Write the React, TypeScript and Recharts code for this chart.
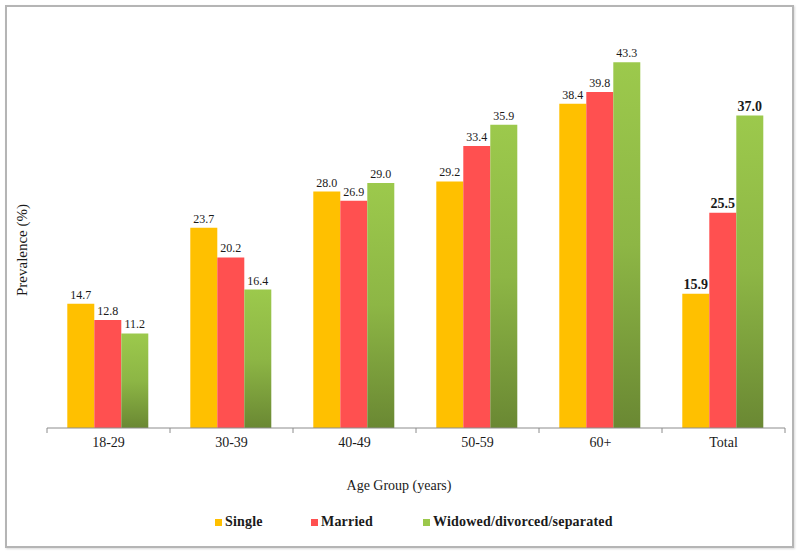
import { BarChart, Bar, XAxis, YAxis, LabelList } from 'recharts';

const ageGroups = ['18-29', '30-39', '40-49', '50-59', '60+', 'Total'];
const single = [14.7, 23.7, 28.0, 29.2, 38.4, 15.9];
const married = [12.8, 20.2, 26.9, 33.4, 39.8, 25.5];
const widowed = [11.2, 16.4, 29.0, 35.9, 43.3, 37.0];

const seriesNames = ['Single', 'Married', 'Widowed/divorced/separated'];
const seriesColors = ['#FFC000', '#FF5050', '#9BC84B'];

const data = ageGroups.map((g, i) => ({
    group: g,
    single: single[i],
    married: married[i],
    widowed: widowed[i],
}));

const serif = '"Liberation Serif", "Times New Roman", serif';

// value labels, bold for the Total group
const ValueLabel = (props: any) => {
    const { x, y, width, value, index } = props;
    const isTotal = ageGroups[index] === 'Total';
    return (
        <text
            x={x + width / 2}
            y={y - 5}
            textAnchor="middle"
            fontFamily={serif}
            fontSize={isTotal ? 14 : 12}
            fontWeight={isTotal ? 700 : 400}
            fill="#1a1a1a"
        >
            {Number(value).toFixed(1)}
        </text>
    );
};

// category tick: label at centre, tick marks at band edges
const GroupTick = (props: any) => {
    const { x, y, payload, index } = props;
    const half = payload && payload.offset ? payload.offset : 61.5;
    const last = index === ageGroups.length - 1;
    return (
        <g>
            <line x1={x - half} y1={y - 8} x2={x - half} y2={y - 3} stroke="#8c8c8c" />
            {last && <line x1={x + half} y1={y - 8} x2={x + half} y2={y - 3} stroke="#8c8c8c" />}
            <text x={x} y={y + 11} textAnchor="middle" fontFamily={serif} fontSize={14} fill="#1a1a1a">
                {payload.value}
            </text>
        </g>
    );
};

export default function App() {
    return (
        <div style={{ position: 'absolute', left: 0, top: 0, width: 800, height: 552, background: '#fff', fontFamily: serif }}>
            {/* frame */}
            <div style={{ position: 'absolute', left: 5, top: 5, width: 785, height: 539, border: '2px solid #b5b5b5', boxShadow: '1px 1px 2px rgba(0,0,0,0.15)' }} />

            <div style={{ position: 'absolute', left: 0, top: 0 }}>
                <BarChart
                    width={800}
                    height={552}
                    data={data}
                    margin={{ top: 48, right: 15, bottom: 94, left: 47 }}
                    barCategoryGap="16.5%"
                    barGap={0}
                >
                    <defs>
                        <linearGradient id="greenGrad" x1="0" y1="0" x2="0" y2="1">
                            <stop offset="0%" stopColor="#9CC94C" />
                            <stop offset="50%" stopColor="#8DB645" />
                            <stop offset="100%" stopColor="#6A8833" />
                        </linearGradient>
                    </defs>
                    <XAxis
                        dataKey="group"
                        height={30}
                        axisLine={{ stroke: '#8c8c8c' }}
                        tickLine={false}
                        tick={<GroupTick />}
                        interval={0}
                    />
                    <YAxis hide domain={[0, 45]} />
                    <Bar dataKey="single" fill={seriesColors[0]} isAnimationActive={false}>
                        <LabelList dataKey="single" content={<ValueLabel />} />
                    </Bar>
                    <Bar dataKey="married" fill={seriesColors[1]} isAnimationActive={false}>
                        <LabelList dataKey="married" content={<ValueLabel />} />
                    </Bar>
                    <Bar dataKey="widowed" fill="url(#greenGrad)" isAnimationActive={false}>
                        <LabelList dataKey="widowed" content={<ValueLabel />} />
                    </Bar>
                </BarChart>
            </div>

            {/* axis titles */}
            <div style={{ position: 'absolute', left: 343, top: 478, width: 112, textAlign: 'center', fontSize: 14, color: '#1a1a1a', whiteSpace: 'nowrap' }}>
                Age Group (years)
            </div>
            <div style={{ position: 'absolute', left: 22, top: 250, transform: 'translate(-50%, -50%) rotate(-90deg)', fontSize: 15, color: '#1a1a1a', whiteSpace: 'nowrap' }}>
                Prevalence (%)
            </div>

            {/* legend */}
            {seriesNames.map((name, i) => (
                <div key={name} style={{ position: 'absolute', left: [215, 311, 423][i], top: 514, display: 'flex', alignItems: 'center', fontSize: 14, fontWeight: 700, letterSpacing: 0.2, color: '#1a1a1a', whiteSpace: 'nowrap' }}>
                    <span style={{ display: 'inline-block', width: 7, height: 7, background: seriesColors[i], marginRight: 3 }} />
                    {name}
                </div>
            ))}
        </div>
    );
}
